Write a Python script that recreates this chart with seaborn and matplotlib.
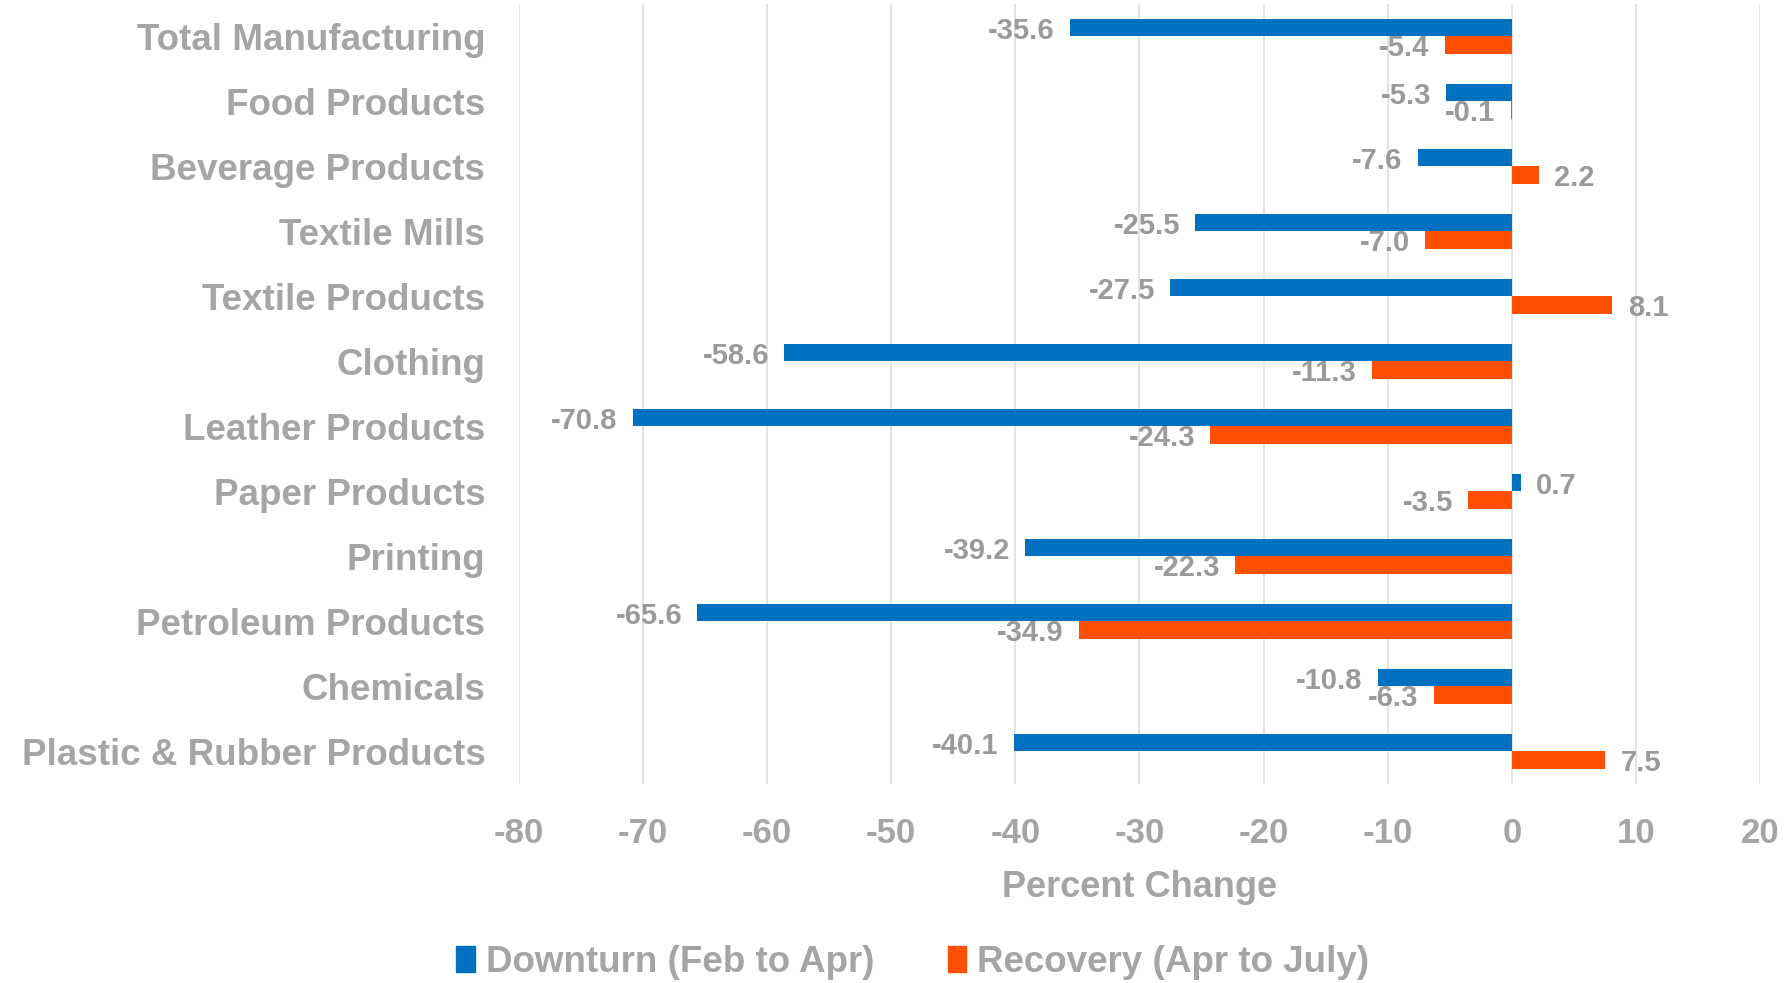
import matplotlib
matplotlib.use("Agg")
import matplotlib.pyplot as plt
import seaborn as sns
import pandas as pd

categories = ["Total Manufacturing", "Food Products", "Beverage Products", "Textile Mills",
              "Textile Products", "Clothing", "Leather Products", "Paper Products",
              "Printing", "Petroleum Products", "Chemicals", "Plastic & Rubber Products"]
downturn = [-35.6, -5.3, -7.6, -25.5, -27.5, -58.6, -70.8, 0.7, -39.2, -65.6, -10.8, -40.1]
recovery = [-5.4, -0.1, 2.2, -7.0, 8.1, -11.3, -24.3, -3.5, -22.3, -34.9, -6.3, 7.5]
series = ["Downturn (Feb to Apr)", "Recovery (Apr to July)"]
colors = ["#0070C0", "#FF5000"]

df = pd.DataFrame({
    "cat": categories * 2,
    "val": downturn + recovery,
    "series": [series[0]] * len(categories) + [series[1]] * len(categories),
})

sns.set_style("white")
plt.rcParams['font.family'] = ['Liberation Sans', 'DejaVu Sans']
plt.rcParams['axes.unicode_minus'] = False
grey = "#A5A5A5"

fig = plt.figure(figsize=(17.91, 9.83), dpi=100)
ax = fig.add_axes([0.2896, 0.2025, 0.6932, 0.7935])

sns.barplot(data=df, y="cat", x="val", hue="series", palette=colors, orient="h",
            width=0.53, saturation=1, linewidth=0, ax=ax, legend=False, zorder=3)

# data labels, nudged a touch down like Excel's
for cont in ax.containers:
    labs = ax.bar_label(cont, fmt="%.1f", padding=11, fontsize=21, fontweight="bold",
                        color="#9A9A9A")
    for a in labs:
        a.xyann = (a.xyann[0], a.xyann[1] - 2)

ax.set_xlim(-80, 20)
ax.set_xticks(range(-80, 21, 10))
ax.set_ylim(len(categories) - 0.5, -0.5)
ax.grid(axis="x", color="#E2E2E2", linewidth=1.3, zorder=0)
ax.grid(axis="y", visible=False)
for s in ax.spines.values():
    s.set_visible(False)
ax.tick_params(axis="both", length=0)
ax.tick_params(axis="y", pad=24)
ax.tick_params(axis="x", pad=24)
for t in ax.get_yticklabels():
    t.set_fontsize(26.5)
    t.set_fontweight("bold")
    t.set_color(grey)
for t in ax.get_xticklabels():
    t.set_fontsize(25)
    t.set_fontweight("bold")
    t.set_color(grey)
ax.set_ylabel("")
ax.set_xlabel("Percent Change", fontsize=26, fontweight="bold", color=grey, labelpad=14)

handles = [plt.Rectangle((0, 0), 1, 1, color=c) for c in colors]
leg = fig.legend(handles, series, loc="center", bbox_to_anchor=(913 / 1791, 1 - 962 / 983),
                 ncol=2, frameon=False, handlelength=0.5, handleheight=0.7,
                 handletextpad=0.3, columnspacing=2.0,
                 prop={"size": 26.5, "weight": "bold"})
for t in leg.get_texts():
    t.set_color(grey)

fig.savefig("out.png", dpi=100)
